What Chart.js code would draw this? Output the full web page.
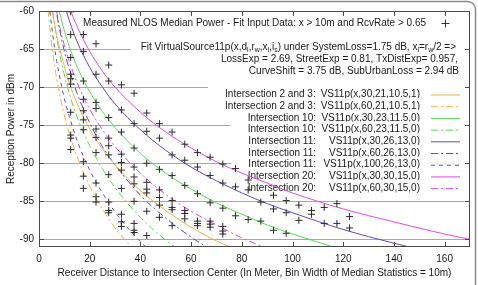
<!DOCTYPE html>
<html>
<head>
<meta charset="utf-8">
<script src="https://cdn.jsdelivr.net/npm/chart.js@4.4.1/dist/chart.umd.min.js"></script>
<style>
  html, body { margin: 0; padding: 0; background: #fff; }
  canvas { display: block; }
</style>
</head>
<body>
<canvas id="chart" width="478" height="285"></canvas>
<script>
// axis ticks
const xTicks = [0, 20, 40, 60, 80, 100, 120, 140, 160];
const yTicks = [-90, -85, -80, -75, -70, -65, -60];

// measured NLOS median power, per 5 m bin centre
const binCentres = [12.5, 17.5, 22.5, 27.5, 32.5, 37.5, 42.5, 47.5, 52.5, 57.5, 62.5, 67.5,
  72.5, 77.5, 82.5, 87.5, 92.5, 97.5, 102.5, 107.5, 112.5, 117.5, 122.5];
const medianPower = [
  [-60.1, -63.1, -66.1, -68.3, -68.9, -69.6, -73.3, -76.3, -76.7, -78.2],
  [-63.1, -65.3, -69.2, -71.6, -73.1, -74.3, -75.6, -79.8, -81.7, -83.3],
  [-64.3, -68.3, -72.0, -72.8, -75.5, -76.6, -78.6, -82.6, -84.4, -85.1],
  [-67.1, -69.2, -74.0, -76.7, -77.7, -78.9, -81.5, -85.1, -86.2, -86.5],
  [-69.7, -73.0, -75.9, -78.8, -79.9, -80.9, -83.3, -86.7, -87.7, -88.3],
  [-70.8, -74.8, -78.0, -80.5, -81.8, -82.7, -85.0, -87.9, -88.8, -89.1],
  [-73.4, -75.8, -80.0, -82.5, -83.4, -83.9, -86.3, -89.5],
  [-74.8, -76.7, -80.8, -83.5, -84.5, -85.5, -87.1],
  [-75.9, -78.9, -81.6, -84.9, -85.8, -86.1, -88.2],
  [-77.5, -79.6, -82.9, -86.2, -86.6, -87.3],
  [-78.6, -80.5, -84.0, -87.6, -87.9, -88.2],
  [-79.2, -81.6, -85.2, -87.6, -88.0, -88.4],
  [-80.1, -82.6, -85.9, -88.3, -88.9, -89.3],
  [-80.7, -83.1, -86.9],
  [-82.2, -83.5, -87.4],
  [-85.1, -87.6],
  [-84.2, -86.0, -88.8],
  [-84.9, -86.5, -89.2],
  [-85.5, -87.5],
  [-86.2, -86.7],
  [-85.8, -87.9],
  [-85.3, -87.9],
  [-87.0, -88.5]
];

// fitted curves
const o30X = [4, 5, 6, 7, 8, 10, 12, 15, 20, 25, 30, 40, 50, 60, 70, 80];
const o30Y = [-56.6, -59.2, -61.4, -63.2, -64.7, -67.3, -69.5, -72.1, -75.5, -78.1, -80.2, -83.6, -86.2, -88.4, -90.2, -91.7];
const o60X = [2, 3, 4, 5, 6, 7, 8, 10, 12, 15, 20, 25, 30, 40];
const o60Y = [-52.0, -57.5, -61.3, -64.3, -66.8, -68.9, -70.7, -73.7, -76.1, -79.1, -83.0, -86.0, -88.5, -92.3];
const g30X = [6, 7, 8, 10, 12, 15, 20, 25, 30, 40, 50, 60, 70, 80, 90, 100, 120];
const g30Y = [-56.7, -58.5, -60.0, -62.6, -64.7, -67.3, -70.6, -73.2, -75.3, -78.7, -81.3, -83.4, -85.2, -86.7, -88.1, -89.3, -91.4];
const g60X = [3, 4, 5, 6, 7, 8, 10, 12, 15, 20, 25, 30, 40, 50, 60];
const g60Y = [-52.2, -56.1, -59.1, -61.5, -63.6, -65.4, -68.4, -70.9, -73.9, -77.7, -80.7, -83.2, -87.1, -90.1, -92.5];
const b30X = [8, 10, 12, 15, 20, 25, 30, 40, 50, 60, 70, 80, 90, 100, 120, 140, 160];
const b30Y = [-56.5, -59.1, -61.3, -64.0, -67.4, -70.0, -72.2, -75.6, -78.3, -80.5, -82.3, -83.9, -85.3, -86.5, -88.7, -90.5, -92.1];
const b60X = [3, 4, 5, 6, 7, 8, 10, 12, 15, 20, 25, 30, 40, 50, 60, 70];
const b60Y = [-48.8, -52.8, -55.8, -58.3, -60.4, -62.2, -65.3, -67.7, -70.8, -74.7, -77.8, -80.2, -84.2, -87.2, -89.7, -91.8];
const b100X = [2, 3, 4, 5, 6, 7, 8, 10, 12, 15, 20, 25, 30, 40, 50];
const b100Y = [-49.6, -55.1, -59.0, -62.0, -64.5, -66.6, -68.4, -71.5, -73.9, -77.0, -80.9, -83.9, -86.4, -90.3, -93.3];
const m30X = [10, 12, 15, 20, 25, 30, 40, 50, 60, 70, 80, 90, 100, 120, 140, 160, 170];
const m30Y = [-57.4, -59.5, -62.0, -65.3, -67.9, -70.0, -73.3, -75.9, -78.0, -79.8, -81.3, -82.6, -83.9, -86.0, -87.7, -89.3, -90.0];
const m60X = [5, 6, 7, 8, 10, 12, 15, 20, 25, 30, 40, 50, 60, 70, 80, 90, 100];
const m60Y = [-56.1, -58.3, -60.1, -61.8, -64.5, -66.7, -69.4, -72.9, -75.6, -77.8, -81.3, -84.1, -86.3, -88.1, -89.8, -91.2, -92.5];

const FONT_FAMILY = '"Liberation Sans", Arial, Helvetica, sans-serif';
const TEXT = '#1a1a1a';
const ORANGE = '#ebb445', GREEN = '#55dd55', BLUE = '#5a4cc6', MAGENTA = '#e44ce4';
const DASHDOT = [7, 3, 2, 3];
const DASHED = [4, 4];

const pts = (xs, ys) => xs.map((x, i) => ({ x: x, y: ys[i] }));
const measured = [];
binCentres.forEach((x, i) => medianPower[i].forEach(y => measured.push({ x: x, y: y })));

function curve(label, formula, xs, ys, color, dash) {
  return {
    keyLabel: label, keyFormula: formula,
    data: pts(xs, ys), showLine: true, borderColor: color, borderWidth: 1,
    borderDash: dash, pointRadius: 0, cubicInterpolationMode: 'monotone', fill: false
  };
}

// text made of [text, isSubscript] pieces, right aligned at xr
function richWidth(ctx, parts) {
  let w = 0;
  parts.forEach(p => {
    ctx.font = (p[1] ? '7px ' : '10px ') + FONT_FAMILY;
    w += ctx.measureText(p[0]).width;
  });
  return w;
}
function drawRich(ctx, parts, xr, y) {
  let x = xr - richWidth(ctx, parts);
  const start = x;
  parts.forEach(p => {
    ctx.font = (p[1] ? '7px ' : '10px ') + FONT_FAMILY;
    ctx.fillText(p[0], x, y + (p[1] ? 3 : 0));
    x += ctx.measureText(p[0]).width;
  });
  return start;
}

const fitLine = [['Fit VirtualSource11p(x,d', 0], ['l', 1], [',r', 0], ['w', 1], [',x', 0], ['l', 1],
  [',i', 0], ['s', 1], [') under SystemLoss=1.75 dB, x', 0], ['l', 1], ['=r', 0], ['w', 1], ['/2 =>', 0]];

const keyPlugin = {
  id: 'gnuKey',
  beforeDatasetsDraw(chart) {
    const ctx = chart.ctx, a = chart.chartArea;
    ctx.save();
    ctx.textBaseline = 'middle';
    ctx.fillStyle = TEXT;
    ctx.font = '10px ' + FONT_FAMILY;

    // header
    ctx.textAlign = 'left';
    const t1 = 'Measured NLOS Median Power - Fit Input Data: x > 10m and RcvRate > 0.65';
    ctx.fillText(t1, 426 - ctx.measureText(t1).width, 23);
    ctx.strokeStyle = '#333';
    ctx.lineWidth = 1;
    ctx.beginPath();
    ctx.moveTo(441.5, 23.5); ctx.lineTo(449.5, 23.5);
    ctx.moveTo(445.5, 19.5); ctx.lineTo(445.5, 27.5);
    ctx.stroke();

    const fitW = richWidth(ctx, fitLine);
    ctx.fillStyle = '#fff';
    ctx.fillRect(456 - fitW - 10, 41, a.right - 1 - (456 - fitW - 10), 36);
    ctx.fillStyle = TEXT;
    drawRich(ctx, fitLine, 456, 47);
    ctx.font = '10px ' + FONT_FAMILY;
    ctx.textAlign = 'right';
    ctx.fillText('LossExp = 2.69, StreetExp = 0.81, TxDistExp= 0.957,', 458, 59.5);
    ctx.fillText('CurveShift = 3.75 dB, SubUrbanLoss = 2.94 dB', 459, 71);

    // key rows
    const rowY0 = 94.5, rowStep = 11.7;
    chart.data.datasets.forEach((ds, i) => {
      if (!ds.keyLabel) return;
      const y = rowY0 + (i - 1) * rowStep;
      ctx.font = '10px ' + FONT_FAMILY;
      const fw = ctx.measureText(ds.keyFormula).width;
      const labelRight = Math.min(316, 420 - fw - 5);
      const lw = ctx.measureText(ds.keyLabel).width;
      const left = labelRight - lw - 17;
      ctx.fillStyle = '#fff';
      ctx.fillRect(left, y - 8, a.right - 1 - left, rowStep + 0.5);
      ctx.fillStyle = TEXT;
      ctx.textAlign = 'right';
      ctx.fillText(ds.keyLabel, labelRight, y);
      ctx.fillText(ds.keyFormula, 420, y);
      ctx.strokeStyle = ds.borderColor;
      ctx.lineWidth = 1;
      ctx.setLineDash(ds.borderDash || []);
      ctx.beginPath();
      ctx.moveTo(431, y + 0.5);
      ctx.lineTo(460, y + 0.5);
      ctx.stroke();
      ctx.setLineDash([]);
    });
    ctx.restore();
  },
  afterDraw(chart) {
    const ctx = chart.ctx, a = chart.chartArea;
    const sx = chart.scales.x, sy = chart.scales.y;
    ctx.save();
    ctx.strokeStyle = '#4a4a4a';
    ctx.lineWidth = 1;
    ctx.strokeRect(a.left + 0.5, a.top + 0.5, a.right - a.left - 1, a.bottom - a.top - 1);
    ctx.beginPath();
    xTicks.forEach(v => {
      const px = Math.round(sx.getPixelForValue(v)) + 0.5;
      ctx.moveTo(px, a.bottom); ctx.lineTo(px, a.bottom - 5);
      ctx.moveTo(px, a.top); ctx.lineTo(px, a.top + 5);
    });
    yTicks.forEach(v => {
      const py = Math.round(sy.getPixelForValue(v)) + 0.5;
      ctx.moveTo(a.left, py); ctx.lineTo(a.left + 5, py);
      ctx.moveTo(a.right, py); ctx.lineTo(a.right - 5, py);
    });
    ctx.stroke();

    // outer figure frame (top and right edge)
    ctx.strokeStyle = '#8a8a8a';
    ctx.lineWidth = 1.5;
    ctx.beginPath();
    ctx.moveTo(0, 1.5);
    ctx.lineTo(467, 1.5);
    ctx.arcTo(475.5, 1.5, 475.5, 10, 8);
    ctx.lineTo(475.5, 285);
    ctx.stroke();
    ctx.restore();
  }
};

const ctx = document.getElementById('chart').getContext('2d');
new Chart(ctx, {
  type: 'scatter',
  data: {
    datasets: [
      {
        data: measured, showLine: false, pointStyle: 'cross', pointRadius: 3.5,
        pointBorderColor: '#2a2a2a', pointBorderWidth: 1, pointBackgroundColor: '#2a2a2a'
      },
      curve('Intersection 2 and 3:', 'VS11p(x,30,21,10.5,1)', o30X, o30Y, ORANGE, []),
      curve('Intersection 2 and 3:', 'VS11p(x,60,21,10.5,1)', o60X, o60Y, ORANGE, DASHDOT),
      curve('Intersection 10:', 'VS11p(x,30,23,11.5,0)', g30X, g30Y, GREEN, []),
      curve('Intersection 10:', 'VS11p(x,60,23,11.5,0)', g60X, g60Y, GREEN, DASHDOT),
      curve('Intersection 11:', 'VS11p(x,30,26,13,0)', b30X, b30Y, BLUE, []),
      curve('Intersection 11:', 'VS11p(x,60,26,13,0)', b60X, b60Y, BLUE, DASHDOT),
      curve('Intersection 11:', 'VS11p(x,100,26,13,0)', b100X, b100Y, BLUE, DASHED),
      curve('Intersection 20:', 'VS11p(x,30,30,15,0)', m30X, m30Y, MAGENTA, []),
      curve('Intersection 20:', 'VS11p(x,60,30,15,0)', m60X, m60Y, MAGENTA, DASHDOT)
    ]
  },
  options: {
    responsive: false,
    animation: false,
    devicePixelRatio: 1,
    layout: { padding: { top: 11, right: 8, left: 0, bottom: 0 } },
    plugins: { legend: { display: false }, tooltip: { enabled: false } },
    scales: {
      x: {
        type: 'linear', min: 0, max: 170,
        afterBuildTicks: s => { s.ticks = xTicks.map(v => ({ value: v })); },
        afterFit: s => { s.height = 38; },
        grid: { display: false, drawTicks: false },
        border: { display: false },
        ticks: { font: { family: FONT_FAMILY, size: 10 }, color: TEXT, padding: 6, maxRotation: 0, autoSkip: false },
        title: {
          display: true, color: TEXT, font: { family: FONT_FAMILY, size: 10 },
          text: 'Receiver Distance to Intersection Center (In Meter, Bin Width of Median Statistics = 10m)',
          padding: { top: 0, bottom: 6 }
        }
      },
      y: {
        type: 'linear', min: -91, max: -60,
        afterBuildTicks: s => { s.ticks = yTicks.map(v => ({ value: v })); },
        afterFit: s => { s.width = 39; },
        grid: { color: '#a8a8a8', lineWidth: 1, drawTicks: false },
        border: { display: false },
        ticks: { font: { family: FONT_FAMILY, size: 10 }, color: TEXT, padding: 5 },
        title: {
          display: true, color: TEXT, font: { family: FONT_FAMILY, size: 10 },
          text: 'Reception Power in dBm', padding: { top: 5, bottom: 0 }
        }
      }
    }
  },
  plugins: [keyPlugin]
});
</script>
</body>
</html>
